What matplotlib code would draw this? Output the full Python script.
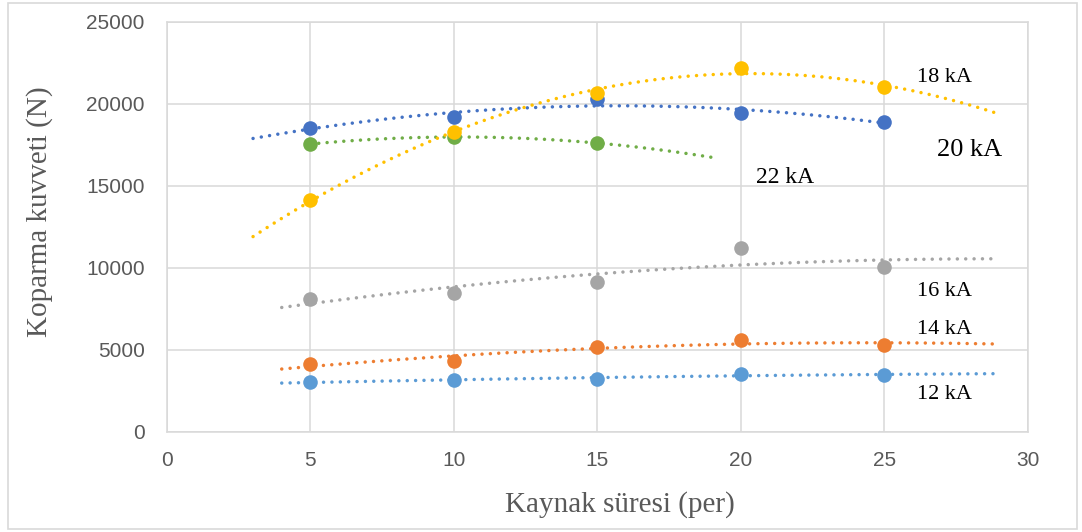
import numpy as np
import matplotlib
matplotlib.use("Agg")
import matplotlib.pyplot as plt

# Welding time (cycles) and peel force (N) per welding current
weld_time = [5, 10, 15, 20, 25]
force_12kA = [3030, 3130, 3230, 3540, 3440]
force_14kA = [4130, 4290, 5150, 5590, 5290]
force_16kA = [8070, 8480, 9110, 11200, 10040]
force_18kA = [14110, 18260, 20670, 22160, 21000]
force_20kA = [18540, 19170, 20270, 19410, 18870]
force_22kA = [17540, 17970, 17600]

# series: (values, colour, trendline start, trendline end, label text, label x, label y, label size)
series = [
    (force_20kA, "#4472C4", 3, 25, "20 kA", 27.97, 17170, 19),
    (force_22kA, "#70AD47", 5, 19, "22 kA", 21.55, 15470, 17),
    (force_18kA, "#FFC000", 3, 29, "18 kA", 27.1, 21570, 16),
    (force_16kA, "#A5A5A5", 4, 29, "16 kA", 27.1, 8540, 16),
    (force_14kA, "#ED7D31", 4, 29, "14 kA", 27.1, 6240, 16),
    (force_12kA, "#5B9BD5", 4, 29, "12 kA", 27.1, 2260, 16),
]

W, H = 1082, 532
fig = plt.figure(figsize=(W / 100, H / 100), dpi=100)
ax = fig.add_axes([167 / W, 1 - 431.7 / H, (1027.5 - 167) / W, (431.7 - 21.7) / H])

grid_c = "#D9D9D9"
for s in ax.spines.values():
    s.set_color(grid_c)
    s.set_linewidth(1.1)
ax.grid(True, color=grid_c, linewidth=1.1)
ax.set_axisbelow(True)

for vals, col, x0, x1, txt, lx, ly, fs in series:
    xs = np.array(weld_time[:len(vals)], dtype=float)
    ys = np.array(vals, dtype=float)
    coef = np.polyfit(xs, ys, 2)
    xt = np.linspace(x0, x1, 200)
    ax.plot(xt, np.polyval(coef, xt), color=col, linewidth=2.5,
            linestyle=(0, (0.01, 2.4)), dash_capstyle="round", zorder=2)
    ax.plot(xs, ys, "o", color=col, markersize=10.5, markeredgewidth=0, zorder=3)
    ax.text(lx, ly, txt, fontsize=fs, family="Liberation Serif", color="black",
            ha="center", va="center", zorder=4)

ax.set_xlim(0, 30)
ax.set_ylim(0, 25000)
ax.set_xticks(range(0, 31, 5))
ax.set_yticks(range(0, 25001, 5000))
ax.tick_params(length=0, labelsize=15, labelcolor="#595959")
ax.tick_params(axis="y", pad=16)
ax.tick_params(axis="x", pad=14)
for lab in ax.get_xticklabels() + ax.get_yticklabels():
    lab.set_family("Liberation Sans")

fig.text(620 / W, 1 - 505 / H, "Kaynak süresi (per)", fontsize=21,
         family="Liberation Serif", color="#595959", ha="center", va="center")
fig.text(40 / W, 1 - 212 / H, "Koparma kuvveti (N)", fontsize=21,
         family="Liberation Serif", color="#595959", ha="center", va="center",
         rotation=90)

# chart frame
fig.patches.append(plt.Rectangle((8 / W, 3 / H), (1077 - 8) / W, (529 - 3) / H,
                                 transform=fig.transFigure, fill=False,
                                 edgecolor="#D9D9D9", linewidth=1.2))

fig.savefig("out.png", dpi=100)
